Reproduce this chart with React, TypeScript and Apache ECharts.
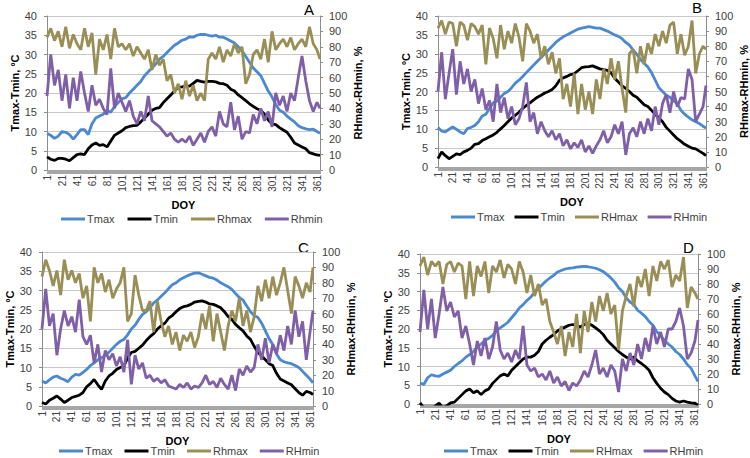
import React, { useEffect, useRef } from "react";
import * as echarts from "echarts";

// Sampled days of year (every 5th day plus the last one)
const SAMPLE_DAYS: number[] = Array.from({ length: 73 }, (_, i) => 1 + 5 * i).concat([365]);
const DOY: string[] = Array.from({ length: 365 }, (_, i) => String(i + 1));

// Panel A
const tmaxA = [9.5, 9, 8.2, 8.8, 10, 9.8, 9.2, 8, 9.2, 10.5,
  10.5, 9.2, 12, 13.5, 14, 14.5, 15.5, 15, 16.5, 17.5,
  18.5, 18.8, 20, 21, 22, 23, 24.5, 25.5, 26.5, 27.5,
  28.8, 29.5, 30.5, 31.5, 32.4, 33, 33.7, 34, 34.6, 34.5,
  35, 35.2, 35.2, 35, 34.8, 35, 34.5, 34.5, 34, 33.5,
  33, 32, 31, 29.5, 28, 26.5, 25.5, 24.5, 22.5, 20.5,
  19, 17, 15.5, 15, 14, 13.2, 12.5, 11.5, 11, 10.7,
  10.5, 10.6, 10, 9.5];
const tminA = [3.4, 2.8, 2.5, 3, 3, 2.8, 2.4, 3.2, 4, 4.2,
  4, 5.5, 6.5, 7, 6.4, 6.6, 6, 7.5, 9, 9.6,
  10.2, 11, 11.3, 11.5, 11.6, 12.5, 13.5, 14.5, 15.5, 16,
  16.2, 17.5, 18.5, 19.5, 20.5, 21.5, 21.6, 21.8, 21.8, 22.5,
  23.3, 23, 22.8, 23, 23, 22.9, 22.5, 22.4, 22, 21,
  20.5, 19.5, 18.8, 18, 17.2, 16.5, 15.9, 15.5, 14.5, 13,
  12, 11.8, 11, 10.4, 9.8, 8.5, 7, 6.5, 6, 5.5,
  4.5, 4.2, 3.9, 3.8];
const rhmaxA = [86, 92, 84, 90, 80, 93, 79, 88, 82, 78,
  92, 80, 89, 62, 85, 78, 88, 72, 92, 80,
  82, 78, 82, 74, 80, 76, 72, 78, 65, 75,
  68, 72, 58, 62, 50, 56, 46, 58, 48, 55,
  45, 50, 45, 72, 76, 72, 80, 70, 78, 74,
  82, 76, 80, 56, 62, 75, 78, 72, 85, 70,
  90, 78, 82, 85, 80, 86, 78, 82, 85, 80,
  93, 82, 78, 72];
const rhminA = [48, 75, 55, 65, 45, 62, 40, 60, 45, 64,
  50, 38, 55, 42, 46, 40, 36, 66, 40, 50,
  44, 38, 45, 35, 30, 38, 32, 48, 32, 30,
  28, 25, 22, 24, 20, 18, 20, 18, 22, 16,
  20, 24, 18, 25, 28, 22, 38, 30, 28, 44,
  26, 35, 20, 25, 24, 36, 30, 40, 32, 38,
  28, 50, 42, 48, 38, 50, 45, 60, 74, 58,
  45, 38, 44, 40];

// Panel B
const tmaxB = [10.5, 9.5, 9.3, 10, 10.6, 10, 9.3, 8.8, 10.2, 10.5,
  11, 12, 13.5, 14, 15.5, 17, 17.5, 18.5, 19.5, 20,
  21, 22.2, 23, 24, 25, 26, 27, 28, 29, 30,
  31, 32, 33, 33.8, 34.5, 35, 35.5, 36, 36.5, 36.8,
  37, 37.2, 37, 36.8, 36.8, 36.4, 36, 35.5, 35, 34.6,
  34, 33, 32.3, 31, 29.8, 28.5, 27.5, 26.5, 25, 23,
  21, 20, 19, 18.5, 17.5, 16.8, 15, 14, 13.2, 12.5,
  12, 11.5, 10.8, 10.3];
const tminB = [2.2, 4, 3, 2.2, 2.8, 3.5, 3.3, 4, 4.4, 5,
  6, 6.2, 7, 7.5, 8, 8.5, 9.2, 10.1, 11, 12,
  13, 13.7, 14.5, 15.5, 16.3, 17, 17.8, 18.5, 19, 19.6,
  20, 20.5, 21.5, 23, 23.6, 24, 24.5, 24.7, 25.5, 26.3,
  26.5, 26.6, 26.8, 26.4, 26, 25.8, 25.6, 25, 23.5, 22.5,
  21.5, 20.8, 20, 19, 18.5, 17.5, 16.5, 16, 15, 14,
  13, 12, 10.5, 9.5, 8.5, 7.5, 6.8, 6, 5.5, 5,
  4.8, 4.2, 3.6, 3];
const rhmaxB = [92, 97, 88, 96, 95, 80, 96, 94, 84, 95,
  93, 88, 94, 68, 92, 85, 72, 94, 78, 90,
  82, 95, 86, 70, 95, 90, 82, 88, 72, 80,
  68, 76, 62, 72, 45, 55, 40, 62, 35, 55,
  38, 50, 35, 58, 45, 65, 55, 72, 58, 70,
  52, 36, 75, 78, 62, 80, 68, 82, 75, 88,
  80, 90, 82, 94, 96, 75, 88, 74, 80, 97,
  62, 75, 80, 78];
const rhminB = [50, 76, 45, 62, 78, 48, 70, 55, 65, 50,
  58, 42, 52, 38, 44, 30, 55, 36, 46, 32,
  40, 28, 32, 40, 56, 30, 36, 22, 30, 24,
  20, 24, 18, 22, 14, 18, 12, 16, 13, 18,
  10, 14, 9, 14, 18, 24, 16, 20, 28, 22,
  30, 8, 22, 26, 20, 30, 22, 32, 24, 40,
  28, 42, 48, 36, 50, 40, 46, 45, 65, 58,
  30, 35, 40, 54];

// Panel C
const tmaxC = [6.5, 6, 6.8, 7.5, 7.8, 7.2, 6.8, 6.3, 7.5, 8.2,
  8, 8.7, 9.5, 10.5, 11.2, 12, 12.5, 13.2, 14, 15,
  16, 16.8, 17.3, 18.5, 20, 21, 22.5, 23.8, 24.5, 25.5,
  26.8, 27.5, 28.5, 29.4, 30.5, 31.5, 32, 32.8, 33.3, 33.8,
  34.2, 34.5, 34.6, 34.2, 33.8, 33.4, 33.2, 32.7, 32, 31.5,
  31, 30.3, 29.2, 28.2, 27.5, 26, 24.5, 23.5, 23, 21.5,
  19.5, 17.5, 16, 13.5, 12, 11.5, 11.2, 11, 10.5, 10,
  9, 8, 7, 6];
const tminC = [0.9, 0.5, 1.5, 2, 2.6, 1.8, 0.9, 1.5, 2.2, 2.5,
  2.8, 3.5, 5, 5.8, 6.9, 5.5, 4.3, 6.5, 7.8, 8.5,
  9.5, 10, 10.4, 12.5, 13.9, 14.2, 15, 15.8, 17, 18,
  18.8, 20, 20.8, 21.5, 22.8, 23.5, 24.5, 25.3, 25.8, 26,
  26.4, 27, 27.2, 27.3, 27, 26.5, 26.4, 26, 25.5, 24.5,
  23.2, 22.5, 21.2, 20.3, 19.5, 18.2, 17.3, 15.5, 13.9, 13,
  12, 11, 10.5, 8.5, 7, 6.5, 6, 5.5, 4.5, 3.5,
  2.8, 3.8, 3.5, 3];
const rhmaxC = [84, 95, 88, 78, 88, 72, 95, 82, 88, 80,
  86, 70, 78, 55, 90, 80, 86, 74, 82, 70,
  76, 80, 90, 55, 60, 85, 72, 62, 62, 68,
  48, 68, 55, 45, 52, 40, 48, 36, 46, 42,
  48, 38, 45, 60, 50, 65, 42, 60, 48, 36,
  52, 62, 55, 70, 52, 62, 48, 58, 78, 68,
  82, 70, 84, 72, 80, 90, 75, 60, 84, 78,
  70, 80, 74, 90];
const rhminC = [50, 76, 52, 60, 33, 50, 62, 52, 58, 48,
  69, 45, 40, 46, 28, 40, 22, 36, 30, 34,
  26, 32, 22, 43, 14, 33, 24, 28, 18, 20,
  16, 18, 15, 17, 13, 12, 11, 14, 12, 15,
  11, 13, 12, 15, 20, 14, 16, 12, 18, 14,
  11, 20, 10, 24, 20, 26, 22, 25, 40, 30,
  44, 28, 40, 34, 46, 36, 52, 40, 62, 45,
  55, 30, 48, 62];

// Panel D
const tmaxD = [5.6, 5.2, 7, 7.8, 7.5, 7.4, 8, 8.5, 9, 10,
  10.8, 11.5, 12.5, 13.2, 14, 15.2, 16, 17, 17.5, 18.3,
  19.5, 20.3, 21, 21.8, 23, 24.2, 25.6, 26.5, 27.6, 28.5,
  29.8, 30.8, 31.8, 32.8, 33.6, 34.3, 35.2, 35.6, 36, 36.2,
  36.3, 36.5, 36.6, 36.7, 36.6, 36.4, 36.2, 35.8, 35.3, 34.5,
  33.6, 32.5, 31, 30, 28.3, 27.2, 26.5, 25, 24.2, 23.3,
  22, 21, 19.3, 18.2, 17, 16, 15.2, 14, 13.2, 12,
  10.5, 9.5, 7.5, 6];
const tminD = [0.3, -1, -2, -1.5, -0.5, 0.2, -1, -0.5, 0.3, 0.5,
  1.5, 2.5, 3.5, 4, 3, 3.5, 2.5, 3.5, 4, 5.5,
  6.5, 7.5, 8, 7.5, 9, 10, 11, 12, 12.5, 12.5,
  13, 14, 16, 17, 17.8, 18.5, 19.5, 20, 20.5, 21,
  21.2, 21, 20.5, 21.2, 21.5, 21, 20.3, 19.5, 18.5, 17,
  16, 15, 14, 13.2, 12.5, 12, 12.5, 11.5, 10.8, 10,
  9, 7, 5.5, 4.2, 3.2, 2.5, 1.5, 0.8, 0.5, 0.8,
  0.5, 0.3, 0.2, -0.3];
const rhmaxD = [92, 98, 86, 95, 92, 95, 80, 93, 95, 88,
  94, 92, 70, 95, 72, 92, 85, 95, 74, 92,
  88, 96, 84, 93, 90, 80, 95, 88, 74, 86,
  72, 80, 66, 70, 55, 48, 40, 52, 32, 48,
  38, 60, 34, 62, 48, 68, 55, 72, 62, 74,
  60, 66, 36, 62, 72, 80, 65, 85, 78, 90,
  72, 92, 82, 95, 90, 96, 78, 86, 82, 98,
  64, 78, 74, 70];
const rhminD = [48, 76, 50, 70, 44, 60, 78, 62, 68, 58,
  62, 44, 52, 40, 26, 42, 32, 44, 30, 38,
  55, 36, 30, 34, 28, 36, 30, 52, 26, 22,
  24, 18, 20, 16, 22, 14, 18, 12, 15, 9,
  14, 12, 16, 22, 18, 26, 36, 20, 24, 18,
  26, 22, 8, 30, 22, 34, 26, 40, 30, 44,
  35, 52, 40, 48, 38, 50, 50, 55, 64, 52,
  30, 34, 42, 56];

const COLORS = ["#4a89cf", "#000000", "#998e55", "#7f60a8"];
const FONT = "Liberation Sans";

function expand(vals: number[]): (number | null)[] {
  const out: (number | null)[] = new Array(365).fill(null);
  SAMPLE_DAYS.forEach((d, i) => {
    out[d - 1] = vals[i];
  });
  return out;
}

const PANELS = [
  { grid: { left: 47, top: 16, width: 273, height: 154 }, data: [tmaxA, tminA, rhmaxA, rhminA], names: ["Tmax", "Tmin", "Rhmax", "Rhmin"], legend: { left: 61, top: 213, gap: 13 }, letter: { text: "A", x: 304, y: 2 } },
  { grid: { left: 438, top: 16, width: 269, height: 151 }, data: [tmaxB, tminB, rhmaxB, rhminB], names: ["Tmax", "Tmin", "RHmax", "RHmin"], legend: { left: 451, top: 211, gap: 10 }, letter: { text: "B", x: 692, y: 0 } },
  { grid: { left: 42, top: 252, width: 271, height: 154 }, data: [tmaxC, tminC, rhmaxC, rhminC], names: ["Tmax", "Tmin", "Rhmax", "RHmin"], legend: { left: 59, top: 445, gap: 12 }, letter: { text: "C", x: 298, y: 240 } },
  { grid: { left: 420, top: 254, width: 278, height: 150 }, data: [tmaxD, tminD, rhmaxD, rhminD], names: ["Tmax", "Tmin", "RHmax", "RHmin"], legend: { left: 444, top: 445, gap: 11 }, letter: { text: "D", x: 683, y: 240 } },
];

export default function App() {
  const ref = useRef<HTMLDivElement>(null);
  useEffect(() => {
    if (!ref.current) return;
    const chart = echarts.init(ref.current, null, { renderer: "svg" });
    const grids: any[] = [];
    const xAxes: any[] = [];
    const yAxes: any[] = [];
    const series: any[] = [];
    const legends: any[] = [];
    const graphics: any[] = [];
    const axisColor = "#8c8c8c";
    PANELS.forEach((p, pi) => {
      grids.push({ ...p.grid, containLabel: false });
      xAxes.push({
        gridIndex: pi,
        type: "category",
        data: DOY,
        boundaryGap: false,
        name: "DOY",
        nameLocation: "middle",
        nameGap: 29,
        nameTextStyle: { fontWeight: "bold", fontSize: 11, color: "#000", fontFamily: FONT },
        axisLine: { show: true, lineStyle: { color: axisColor } },
        axisTick: { show: true, interval: 0, length: 4, lineStyle: { color: "#a6a6a6" } },
        axisLabel: { interval: 19, rotate: 90, fontSize: 10, color: "#404040", margin: 5, fontFamily: FONT },
        splitLine: { show: false },
      });
      yAxes.push({
        gridIndex: pi,
        type: "value",
        min: 0,
        max: 40,
        interval: 5,
        position: "left",
        name: "Tmax-Tmin, ºC",
        nameLocation: "middle",
        nameRotate: 90,
        nameGap: 26,
        nameTextStyle: { fontWeight: "bold", fontSize: 11, color: "#000", fontFamily: FONT },
        axisLine: { show: true, lineStyle: { color: axisColor } },
        axisTick: { show: true, length: 3, lineStyle: { color: axisColor } },
        axisLabel: { fontSize: 11, color: "#404040", margin: 10, fontFamily: FONT },
        splitLine: { show: true, lineStyle: { color: "#c8c8c8", width: 1 } },
      });
      yAxes.push({
        gridIndex: pi,
        type: "value",
        min: 0,
        max: 100,
        interval: 10,
        position: "right",
        name: "RHmax-RHmin, %",
        nameLocation: "middle",
        nameRotate: 90,
        nameGap: 32,
        nameTextStyle: { fontWeight: "bold", fontSize: 11, color: "#000", fontFamily: FONT },
        axisLine: { show: true, lineStyle: { color: axisColor } },
        axisTick: { show: true, length: 3, lineStyle: { color: axisColor } },
        axisLabel: { fontSize: 11, color: "#404040", margin: 9, fontFamily: FONT },
        splitLine: { show: false },
      });
      p.data.forEach((vals, si) => {
        series.push({
          type: "line",
          name: p.names[si],
          xAxisIndex: pi,
          yAxisIndex: si < 2 ? pi * 2 : pi * 2 + 1,
          data: expand(vals),
          connectNulls: true,
          showSymbol: false,
          symbol: "none",
          clip: true,
          lineStyle: { width: 2.8, color: COLORS[si] },
          itemStyle: { color: COLORS[si] },
          emphasis: { disabled: true },
        });
      });
      legends.push({
        left: p.legend.left,
        top: p.legend.top,
        padding: 0,
        orient: "horizontal",
        icon: "rect",
        itemWidth: 24,
        itemHeight: 3,
        itemGap: p.legend.gap,
        data: p.names,
        textStyle: { fontSize: 11, lineHeight: 12, color: "#404040", fontFamily: FONT, padding: [0, 0, 0, -3] },
        selectedMode: false,
      });
      graphics.push({
        type: "text",
        left: p.letter.x,
        top: p.letter.y,
        style: { text: p.letter.text, font: `15px ${FONT}`, fill: "#000" },
      });
    });
    chart.setOption({
      animation: false,
      backgroundColor: "#fff",
      grid: grids,
      xAxis: xAxes,
      yAxis: yAxes,
      series,
      legend: legends,
      graphic: graphics,
    });
    return () => chart.dispose();
  }, []);
  return (
    <div
      ref={ref}
      style={{ position: "fixed", left: 0, top: 0, width: 750, height: 458, background: "#fff" }}
    />
  );
}
